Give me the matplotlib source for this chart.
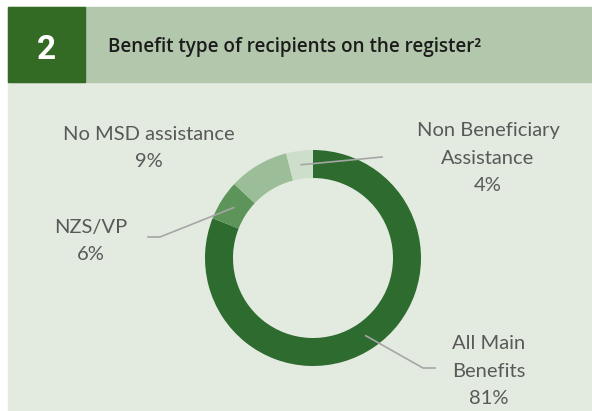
import numpy as np
import matplotlib
matplotlib.use('Agg')
import matplotlib.pyplot as plt
from matplotlib.patches import Rectangle

# Data: benefit type shares of recipients on the register
categories = ['All Main\nBenefits', 'NZS/VP', 'No MSD assistance', 'Non Beneficiary\nAssistance']
shares = [81, 6, 9, 4]
colors = ['#2e6b2f', '#5d945a', '#9bbd97', '#cddfca']

W, H = 592, 411
fig = plt.figure(figsize=(W / 100, H / 100), dpi=100)
fig.patch.set_facecolor('white')
ax = fig.add_axes([0, 0, 1, 1])


def Y(y):
    # image rows (top-down) -> axes coords (bottom-up)
    return H - y


# panel background and header band
ax.add_patch(Rectangle((8, 0), W - 8, Y(82), color='#e3ebe0', zorder=0))
ax.add_patch(Rectangle((8, Y(82)), W - 8, 75, color='#b3c7ac', zorder=0))
ax.add_patch(Rectangle((8, Y(82)), 77, 75, color='#336b25', zorder=1))
ax.text(46, Y(50), '2', color='white', fontsize=24, fontweight='bold',
        family='Roboto', ha='center', va='center', zorder=2)
ax.text(108, Y(47), 'Benefit type of recipients on the register²', color='#1c1c1c',
        fontsize=13.6, family='Open Sans', fontweight='semibold', va='center')

# donut
cx, cy, r, ring = 313, Y(258), 108, 28
wedges, _ = ax.pie(shares, colors=colors, startangle=90, counterclock=False,
                   center=(cx, cy), radius=r, frame=True,
                   wedgeprops=dict(width=ring, edgecolor='none'))
ax.set_xlim(0, W)
ax.set_ylim(0, H)
ax.set_aspect('equal')
ax.axis('off')

lab = dict(color='#595959', fontsize=14.5, family='Lato', ha='center', va='center',
           linespacing=1.75)

# label positions (image coords) and leader line elbows
labels = [
    (489, 371, [(423, 368), (435, 368)]),
    (91, 241, [(160, 237), (148, 237)]),
    (149, 148, None),
    (488, 158, [(382, 157)]),
]

cum = np.cumsum([0] + shares)
total = sum(shares)
for i, (name, val) in enumerate(zip(categories, shares)):
    lx, ly, pts = labels[i]
    ax.text(lx, Y(ly), f'{name}\n{val}%', **lab)
    if pts:
        mid = (cum[i] + val / 2) / total
        ang = np.deg2rad(90 - mid * 360)
        rm = r - ring / 2
        xs = [cx + rm * np.cos(ang)] + [p[0] for p in pts]
        ys = [cy + rm * np.sin(ang)] + [Y(p[1]) for p in pts]
        ax.plot(xs, ys, color='#a6a6a6', lw=1.2, zorder=5)

fig.savefig('out.png', dpi=100, facecolor=fig.get_facecolor())
